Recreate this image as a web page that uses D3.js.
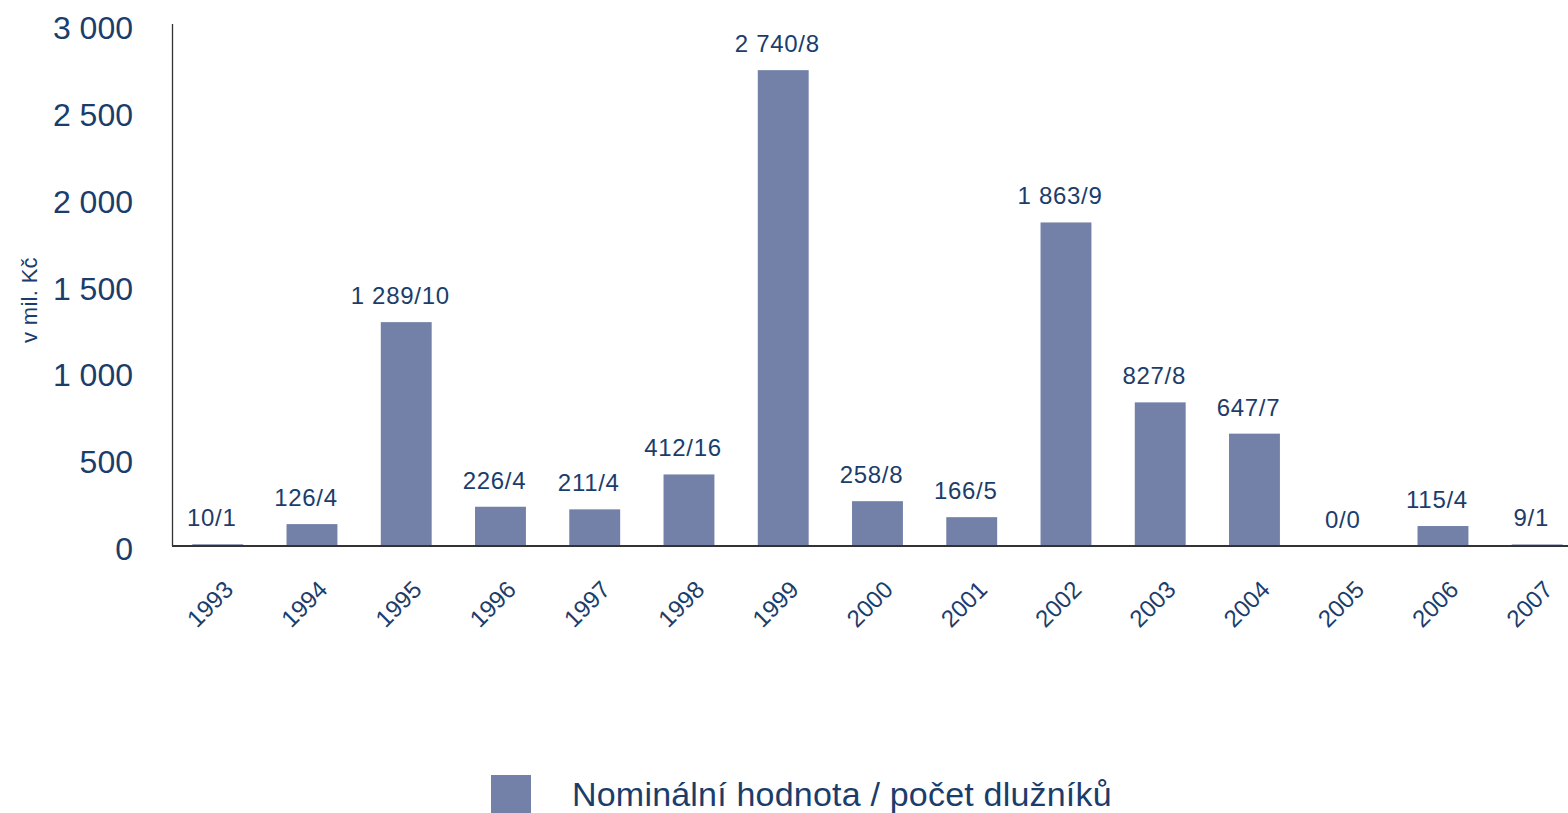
<!DOCTYPE html>
<html>
<head>
<meta charset="utf-8">
<script src="https://cdn.jsdelivr.net/npm/d3@7/dist/d3.min.js"></script>
<style>
  html, body { margin: 0; padding: 0; background: #fff; overflow: hidden; }
  svg { display: block; }
  svg text { font-family: "Liberation Sans", Arial, sans-serif; fill: #1b3d6b; }
</style>
</head>
<body>
<div id="chart"></div>
<script>
const years = ['1993', '1994', '1995', '1996', '1997', '1998', '1999', '2000', '2001', '2002', '2003', '2004', '2005', '2006', '2007'];
const values = [10, 126, 1289, 226, 211, 412, 2740, 258, 166, 1863, 827, 647, 0, 115, 9];
const debtors = [1, 4, 10, 4, 4, 16, 8, 8, 5, 9, 8, 7, 0, 4, 1];
const yTicks = [0, 500, 1000, 1500, 2000, 2500, 3000];
const legendLabel = 'Nominální hodnota / počet dlužníků';
const yTitle = 'v mil. Kč';

const width = 1568;
const height = 813;
const margin = {top: 25, right: 0, bottom: 267, left: 172};
const innerWidth = width - margin.left - margin.right;
const innerHeight = height - margin.top - margin.bottom;
const barColor = '#7380a8';
const step = 94.25;

const fmt = v => d3.format(',')(v).replace(/,/g, '\u00a0');

const svg = d3.select('#chart')
  .append('svg')
    .attr('width', width)
    .attr('height', height);

const g = svg.append('g')
  .attr('transform', `translate(${margin.left},${margin.top})`);

// band range is a bit wider than the plot, last category sits at the edge
const x = d3.scaleBand()
  .domain(years)
  .range([-1.4, -1.4 + step * years.length])
  .paddingInner(0.46)
  .paddingOuter(0.23);

const y = d3.scaleLinear()
  .domain([0, 3000])
  .range([innerHeight, 0]);

// bars
g.selectAll('.bar')
  .data(years)
  .enter().append('rect')
    .attr('class', 'bar')
    .attr('x', d => x(d))
    .attr('y', (d, i) => y(values[i]))
    .attr('width', x.bandwidth())
    .attr('height', (d, i) => innerHeight - y(values[i]))
    .attr('fill', barColor);

// value labels (sit slightly left of bar centre, as in the original)
g.selectAll('.label')
  .data(years)
  .enter().append('text')
    .attr('class', 'label')
    .attr('x', d => x(d) + x.bandwidth() / 2 - 6)
    .attr('y', (d, i) => y(values[i]) - 18)
    .attr('text-anchor', 'middle')
    .style('font-size', '24px')
    .style('letter-spacing', '0.7px')
    .text((d, i) => `${fmt(values[i])}/${debtors[i]}`);

// axes lines
g.append('line')
  .attr('x1', 0.5).attr('x2', 0.5)
  .attr('y1', -1).attr('y2', innerHeight)
  .attr('stroke', '#333').attr('stroke-width', 1.3);

g.append('line')
  .attr('x1', 0).attr('x2', innerWidth)
  .attr('y1', innerHeight).attr('y2', innerHeight)
  .attr('stroke', '#333').attr('stroke-width', 2);

// y tick labels
g.selectAll('.ytick')
  .data(yTicks)
  .enter().append('text')
    .attr('class', 'ytick')
    .attr('x', -39)
    .attr('y', d => y(d))
    .attr('dy', '0.44em')
    .attr('text-anchor', 'end')
    .style('font-size', '32px')
    .text(fmt);

// x tick labels
g.selectAll('.xtick')
  .data(years)
  .enter().append('text')
    .attr('class', 'xtick')
    .attr('transform', d => `translate(${x(d) + x.bandwidth() / 2 + 17},${innerHeight + 45}) rotate(-45)`)
    .attr('text-anchor', 'end')
    .style('font-size', '24px')
    .text(d => d);

// y title
svg.append('text')
  .attr('transform', `translate(37,300) rotate(-90)`)
  .attr('text-anchor', 'middle')
  .style('font-size', '22px')
  .style('letter-spacing', '0.3px')
  .text(yTitle);

// legend
const legend = svg.append('g')
  .attr('transform', 'translate(491,775)');

legend.append('rect')
  .attr('width', 40)
  .attr('height', 38)
  .attr('fill', barColor);

legend.append('text')
  .attr('x', 81)
  .attr('y', 31)
  .style('font-size', '34px')
  .style('letter-spacing', '0.2px')
  .text(legendLabel);
</script>
</body>
</html>
